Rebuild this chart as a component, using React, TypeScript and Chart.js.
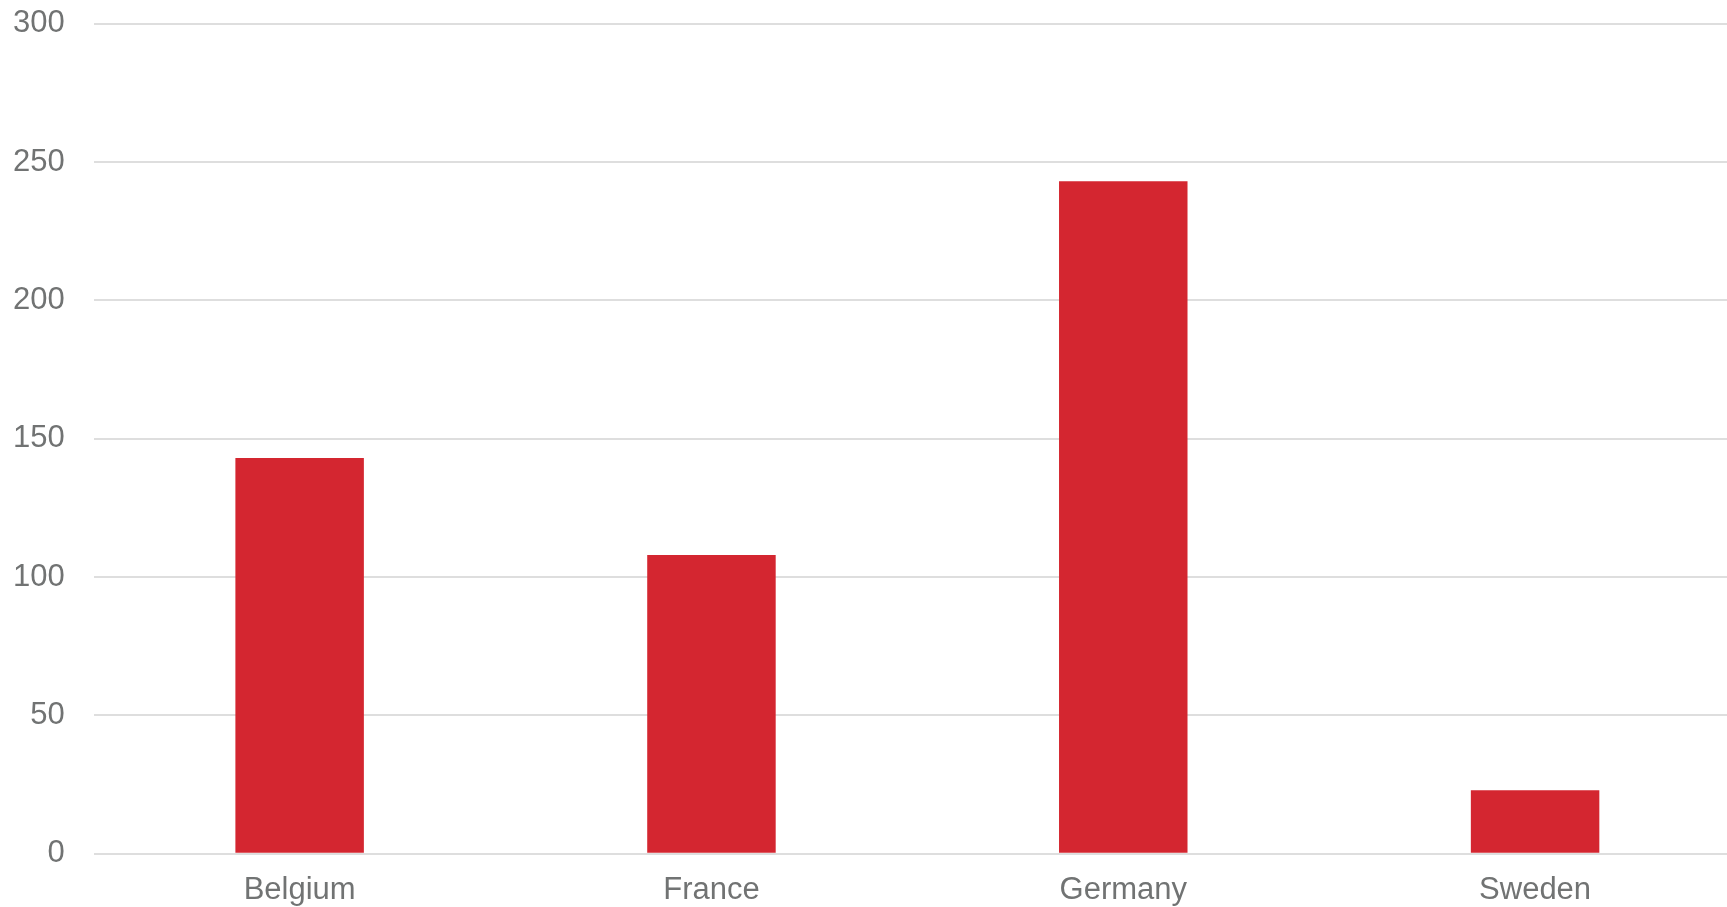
import React, { useEffect, useRef } from "react";
import { Chart, registerables } from "chart.js";

Chart.register(...registerables);

const categories = ["Belgium", "France", "Germany", "Sweden"];
const values = [143, 108, 243, 23];
const yTicks = [0, 50, 100, 150, 200, 250, 300];

export default function App() {
  const ref = useRef<HTMLCanvasElement | null>(null);

  useEffect(() => {
    document.body.style.margin = "0";
    if (!ref.current) return;
    const chart = new Chart(ref.current, {
      type: "bar",
      data: {
        labels: categories,
        datasets: [
          {
            data: values,
            backgroundColor: "#d42630",
            borderWidth: 0,
            barPercentage: 0.312,
            categoryPercentage: 1,
          },
        ],
      },
      options: {
        animation: false,
        responsive: true,
        maintainAspectRatio: false,
        devicePixelRatio: 1,
        layout: { padding: 0 },
        plugins: { legend: { display: false }, tooltip: { enabled: false } },
        scales: {
          x: {
            grid: { display: false },
            border: { display: false },
            ticks: {
              color: "#717373",
              font: { family: "'Liberation Sans', Arial, sans-serif", size: 31 },
              padding: 10,
            },
          },
          y: {
            min: 0,
            max: 300,
            afterBuildTicks: (axis: any) => {
              axis.ticks = yTicks.map((v) => ({ value: v }));
            },
            grid: { color: "#dedede", lineWidth: 2, drawTicks: false },
            border: { display: false },
            ticks: {
              color: "#717373",
              font: { family: "'Liberation Sans', Arial, sans-serif", size: 31 },
              padding: 29,
            },
          },
        },
      },
    });
    return () => chart.destroy();
  }, []);

  return (
    <div style={{ width: 1727, height: 907, overflow: "hidden", position: "relative", background: "#fff" }}>
      <div style={{ position: "absolute", left: -16, top: -24, width: 1757, height: 943 }}>
        <canvas ref={ref} />
      </div>
    </div>
  );
}
